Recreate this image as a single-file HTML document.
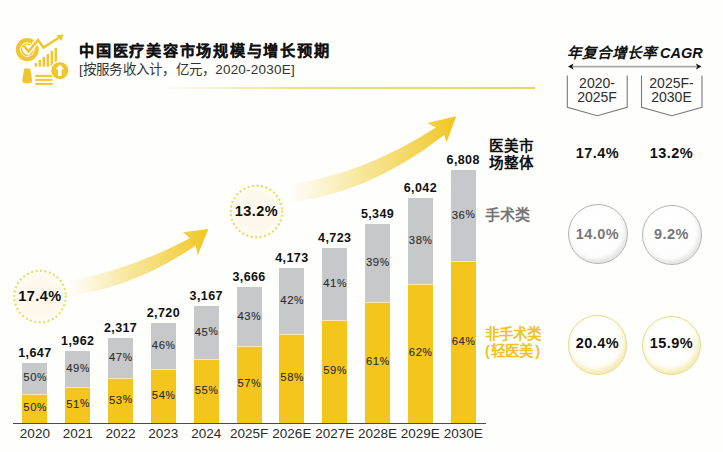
<!DOCTYPE html>
<html lang="zh-CN"><head><meta charset="utf-8">
<style>
*{margin:0;padding:0;box-sizing:border-box}
html,body{width:723px;height:452px;overflow:hidden;background:#fefefc}
body{position:relative;font-family:"Liberation Sans",sans-serif;color:#1a1a1a}
.a{position:absolute}
.g{position:absolute;background:#c7c8ca}
.y{position:absolute;background:#f4c51c;border-top:1px solid #fbe9b0}
.val{position:absolute;width:60px;text-align:center;font-family:"Liberation Sans",sans-serif;font-weight:bold;font-size:12.5px;line-height:16px;color:#111;letter-spacing:0.4px}
.pct{position:absolute;width:40px;text-align:center;font-family:"Liberation Sans",sans-serif;font-size:11.3px;line-height:16px;color:#2b2b2b;letter-spacing:0.6px;-webkit-text-stroke:0.1px #2b2b2b}
.pct span{font-size:10.5px;letter-spacing:0;position:relative;top:-0.3px}
.yr{position:absolute;width:60px;text-align:center;font-size:13.5px;line-height:18px;color:#2a2a2a}
.title{position:absolute;left:79px;top:39.7px;font-size:15.2px;letter-spacing:1.75px;line-height:22px;font-weight:bold;color:#111;white-space:nowrap;-webkit-text-stroke:0.15px #111}
.sub{position:absolute;left:79px;top:61.2px;font-size:13.5px;letter-spacing:0.22px;line-height:18px;color:#333;white-space:nowrap}
.circ{position:absolute;border-radius:50%;}
.mono{font-family:"Liberation Sans",sans-serif;font-weight:bold}
</style></head><body>

<!-- icon -->
<svg class="a" style="left:0;top:20px" width="80" height="80" viewBox="0 0 80 80">
  <g fill="#f0c62e">
    <rect x="34.6" y="43" width="2.4" height="3.6"/>
    <rect x="38.6" y="40" width="2.4" height="6.6"/>
    <rect x="42.6" y="37" width="2.4" height="9.6"/>
    <rect x="46.6" y="34" width="2.4" height="12.6"/>
    <rect x="50.6" y="31" width="2.4" height="15.6"/>
    <rect x="54.6" y="28" width="2.4" height="18.6"/>
  </g>
  <circle cx="27.3" cy="29.6" r="9.4" fill="#fff" stroke="#f0c62e" stroke-width="4.2"/>
  <circle cx="27.3" cy="29.6" r="5.6" fill="none" stroke="#f0c62e" stroke-width="1.6"/>
  <polyline points="24,26 28.5,31.5 38,20 43.5,27.5 61,16.5" fill="none" stroke="#fff" stroke-width="5.5" stroke-linejoin="miter"/>
  <polyline points="24,26 28.5,31.5 38,20 43.5,27.5 60,17" fill="none" stroke="#f0c62e" stroke-width="2.6" stroke-linejoin="miter"/>
  <polygon points="63.5,14.5 56.5,15.2 61.5,21" fill="#f0c62e"/>
  <path d="M24.2 48.5 L30.2 48.5 L32.2 60.8 Q32.2 63.4 27.2 63.4 Q22.2 63.4 22.2 60.8 Z" fill="#f0c62e"/>
  <g fill="#f0c62e">
    <rect x="35.2" y="54.9" width="17.3" height="2"/>
    <rect x="35.2" y="58.9" width="17.3" height="2"/>
    <rect x="35.2" y="62.9" width="17.3" height="2"/>
  </g>
  <circle cx="59.8" cy="50.5" r="9.8" fill="#fff"/>
  <circle cx="59.8" cy="50.5" r="8.6" fill="#f0c62e"/>
  <path d="M59.8 44.5 L64 49.2 L61.6 49.2 L61.6 56 L58 56 L58 49.2 L55.6 49.2 Z" fill="#fff"/>
</svg>

<div class="title">中国医疗美容市场规模与增长预期</div>
<div class="sub">[按服务收入计，亿元，2020-2030E]</div>
<div class="a" style="left:160px;top:86.5px;width:375px;height:2px;background:linear-gradient(90deg,rgba(232,212,100,0) 0%,rgba(232,212,100,0.8) 40%,#e6d56e 100%)"></div>

<!-- arrows -->
<svg class="a" style="left:0;top:0" width="723" height="452">
  <defs>
    <linearGradient id="ag1" x1="68" y1="0" x2="208" y2="0" gradientUnits="userSpaceOnUse">
      <stop offset="0" stop-color="#f6e07a" stop-opacity="0"/>
      <stop offset="0.45" stop-color="#f4da66" stop-opacity="0.68"/>
      <stop offset="1" stop-color="#f1c520" stop-opacity="1"/>
    </linearGradient>
    <linearGradient id="ag2" x1="288" y1="0" x2="456" y2="0" gradientUnits="userSpaceOnUse">
      <stop offset="0" stop-color="#f6e07a" stop-opacity="0"/>
      <stop offset="0.45" stop-color="#f4da66" stop-opacity="0.68"/>
      <stop offset="1" stop-color="#f1c520" stop-opacity="1"/>
    </linearGradient>
  </defs>
  <path d="M62 282 Q127.15 271.6 189.7 238.2 L183.1 232.2 L208.3 228.9 L197.7 255.5 L195.7 245.5 Q131.75 289.5 62 296.5 Z" fill="url(#ag1)"/>
  <path d="M280 186 Q360.4 176.5 435.8 127.6 L427.2 122.9 L456.2 116.3 L446.6 142.6 L444.3 134.9 Q364.65 196.95 280 203 Z" fill="url(#ag2)"/>
</svg>

<svg class="a" style="left:0;top:0" width="723" height="452">
  <defs><radialGradient id="cf"><stop offset="0" stop-color="#fdf8ea"/><stop offset="0.7" stop-color="#fdf8ec"/><stop offset="1" stop-color="#fffcf3"/></radialGradient></defs>
  <circle cx="40" cy="296.5" r="25.8" fill="url(#cf)" stroke="#e8dc6c" stroke-width="2.4" stroke-dasharray="0.01 4.5" stroke-linecap="round"/>
  <circle cx="256.5" cy="211.5" r="25.8" fill="url(#cf)" stroke="#e8dc6c" stroke-width="2.4" stroke-dasharray="0.01 4.5" stroke-linecap="round"/>
</svg>
<div class="a mono" style="left:10px;top:286px;width:60px;text-align:center;font-size:14.5px;line-height:20px;color:#111;letter-spacing:0.45px">17.4%</div>

<div class="a mono" style="left:226.5px;top:201px;width:60px;text-align:center;font-size:14.5px;line-height:20px;color:#111;letter-spacing:0.45px">13.2%</div>

<div class="g" style="left:22.40px;top:362.71px;width:25.0px;height:30.80px"></div>
<div class="y" style="left:22.40px;top:393.50px;width:25.0px;height:30.80px"></div>
<div class="val" style="left:4.90px;top:344.81px">1,647</div>
<div class="pct" style="left:14.90px;top:369.31px">50<span>%</span></div>
<div class="pct" style="left:14.90px;top:399.10px">50<span>%</span></div>
<div class="yr" style="left:4.90px;top:425px">2020</div>
<div class="g" style="left:65.23px;top:350.93px;width:25.0px;height:35.95px"></div>
<div class="y" style="left:65.23px;top:386.88px;width:25.0px;height:37.42px"></div>
<div class="val" style="left:47.73px;top:333.03px">1,962</div>
<div class="pct" style="left:57.73px;top:360.10px">49<span>%</span></div>
<div class="pct" style="left:57.73px;top:395.79px">51<span>%</span></div>
<div class="yr" style="left:47.73px;top:425px">2021</div>
<div class="g" style="left:108.06px;top:337.65px;width:25.0px;height:40.72px"></div>
<div class="y" style="left:108.06px;top:378.38px;width:25.0px;height:45.92px"></div>
<div class="val" style="left:90.56px;top:319.75px">2,317</div>
<div class="pct" style="left:100.56px;top:349.22px">47<span>%</span></div>
<div class="pct" style="left:100.56px;top:391.54px">53<span>%</span></div>
<div class="yr" style="left:90.56px;top:425px">2022</div>
<div class="g" style="left:150.89px;top:322.58px;width:25.0px;height:46.79px"></div>
<div class="y" style="left:150.89px;top:369.37px;width:25.0px;height:54.93px"></div>
<div class="val" style="left:133.39px;top:304.68px">2,720</div>
<div class="pct" style="left:143.39px;top:337.18px">46<span>%</span></div>
<div class="pct" style="left:143.39px;top:387.04px">54<span>%</span></div>
<div class="yr" style="left:133.39px;top:425px">2023</div>
<div class="g" style="left:193.72px;top:305.87px;width:25.0px;height:53.29px"></div>
<div class="y" style="left:193.72px;top:359.16px;width:25.0px;height:65.14px"></div>
<div class="val" style="left:176.22px;top:287.97px">3,167</div>
<div class="pct" style="left:186.22px;top:323.71px">45<span>%</span></div>
<div class="pct" style="left:186.22px;top:381.93px">55<span>%</span></div>
<div class="yr" style="left:176.22px;top:425px">2024</div>
<div class="g" style="left:236.55px;top:287.21px;width:25.0px;height:58.95px"></div>
<div class="y" style="left:236.55px;top:346.16px;width:25.0px;height:78.14px"></div>
<div class="val" style="left:219.05px;top:269.31px">3,666</div>
<div class="pct" style="left:229.05px;top:307.88px">43<span>%</span></div>
<div class="pct" style="left:229.05px;top:375.43px">57<span>%</span></div>
<div class="yr" style="left:219.05px;top:425px">2025F</div>
<div class="g" style="left:279.38px;top:268.25px;width:25.0px;height:65.54px"></div>
<div class="y" style="left:279.38px;top:333.79px;width:25.0px;height:90.51px"></div>
<div class="val" style="left:261.88px;top:250.35px">4,173</div>
<div class="pct" style="left:271.88px;top:292.22px">42<span>%</span></div>
<div class="pct" style="left:271.88px;top:369.24px">58<span>%</span></div>
<div class="yr" style="left:261.88px;top:425px">2026E</div>
<div class="g" style="left:322.21px;top:247.68px;width:25.0px;height:72.41px"></div>
<div class="y" style="left:322.21px;top:320.09px;width:25.0px;height:104.21px"></div>
<div class="val" style="left:304.71px;top:229.78px">4,723</div>
<div class="pct" style="left:314.71px;top:275.09px">41<span>%</span></div>
<div class="pct" style="left:314.71px;top:362.40px">59<span>%</span></div>
<div class="yr" style="left:304.71px;top:425px">2027E</div>
<div class="g" style="left:365.04px;top:224.27px;width:25.0px;height:78.01px"></div>
<div class="y" style="left:365.04px;top:302.28px;width:25.0px;height:122.02px"></div>
<div class="val" style="left:347.54px;top:206.37px">5,349</div>
<div class="pct" style="left:357.54px;top:254.47px">39<span>%</span></div>
<div class="pct" style="left:357.54px;top:353.49px">61<span>%</span></div>
<div class="yr" style="left:347.54px;top:425px">2028E</div>
<div class="g" style="left:407.87px;top:198.35px;width:25.0px;height:85.86px"></div>
<div class="y" style="left:407.87px;top:284.21px;width:25.0px;height:140.09px"></div>
<div class="val" style="left:390.37px;top:180.45px">6,042</div>
<div class="pct" style="left:400.37px;top:232.48px">38<span>%</span></div>
<div class="pct" style="left:400.37px;top:344.46px">62<span>%</span></div>
<div class="yr" style="left:390.37px;top:425px">2029E</div>
<div class="g" style="left:450.70px;top:169.71px;width:25.0px;height:91.65px"></div>
<div class="y" style="left:450.70px;top:261.36px;width:25.0px;height:162.94px"></div>
<div class="val" style="left:433.20px;top:151.81px">6,808</div>
<div class="pct" style="left:443.20px;top:206.73px">36<span>%</span></div>
<div class="pct" style="left:443.20px;top:333.03px">64<span>%</span></div>
<div class="yr" style="left:433.20px;top:425px">2030E</div>
<div class="a" style="left:12.5px;top:422.9px;width:473px;height:1.5px;background:#4a4a4a"></div>

<div class="a" style="left:488.5px;top:138px;font-size:14.6px;line-height:16.6px;font-weight:bold;color:#111;white-space:nowrap">医美市<br>场整体</div>
<div class="a" style="left:485px;top:206px;font-size:15px;line-height:18px;font-weight:bold;color:#767676;white-space:nowrap">手术类</div>
<div class="a" style="left:485px;top:325.5px;font-size:14.5px;line-height:17.5px;font-weight:bold;color:#f0c222;white-space:nowrap">非手术类<br><span style="margin-right:1.5px">(</span>轻医美<span style="margin-left:2px">)</span></div>

<!-- right panel -->
<div class="a" style="left:567px;top:44px;font-size:14.6px;line-height:18px;font-weight:bold;font-style:italic;color:#111;white-space:nowrap">年复合增长率<span style="font-size:14.5px;margin-left:3px">CAGR</span></div>
<svg class="a" style="left:0;top:0" width="723" height="452">
  <line x1="572" y1="66.6" x2="697" y2="66.6" stroke="#a8a8a8" stroke-width="1.6"/>
  <path d="M568 66.6 L573.6 63.6 L572.2 66.6 L573.6 69.6 Z" fill="#111"/>
  <path d="M701.5 66.6 L695.9 63.6 L697.3 66.6 L695.9 69.6 Z" fill="#111"/>
  <g fill="none" stroke="#7a7a7a" stroke-width="1.1">
    <polyline points="567.3,75.5 567.3,107.3 597.3,115.8 627.2,107.3 627.2,75.5"/>
    <polyline points="641.5,75.5 641.5,107.3 671.8,115.8 702,107.3 702,75.5"/>
  </g>
</svg>
<div class="a" style="left:567px;top:75.5px;width:60px;text-align:center;font-size:14px;line-height:14.2px;color:#2e2e2e">2020-<br>2025F</div>
<div class="a" style="left:641.5px;top:75.5px;width:60px;text-align:center;font-size:14px;line-height:14.2px;color:#2e2e2e">2025F-<br>2030E</div>

<div class="a mono" style="left:567.5px;top:143px;width:60px;text-align:center;font-size:14.5px;line-height:20px;color:#111;letter-spacing:0.45px">17.4%</div>
<div class="a mono" style="left:641.5px;top:143px;width:60px;text-align:center;font-size:14.5px;line-height:20px;color:#111;letter-spacing:0.45px">13.2%</div>

<div class="circ" style="left:567.5px;top:204.3px;width:60px;height:60px;border:1px solid #b3b3b3;background:radial-gradient(circle at 42% 38%,#ffffff 0%,#fdfdfd 60%,#f0f0f0 100%);box-shadow:inset -2px -3px 4px rgba(0,0,0,0.09)"></div>
<div class="circ" style="left:641.5px;top:205px;width:60px;height:60px;border:1px solid #b3b3b3;background:radial-gradient(circle at 42% 38%,#ffffff 0%,#fdfdfd 60%,#f0f0f0 100%);box-shadow:inset -2px -3px 4px rgba(0,0,0,0.09)"></div>
<div class="a mono" style="left:567.5px;top:224px;width:60px;text-align:center;font-size:14.5px;line-height:20px;color:#777;letter-spacing:0.45px">14.0%</div>
<div class="a mono" style="left:641.5px;top:224px;width:60px;text-align:center;font-size:14.5px;line-height:20px;color:#777;letter-spacing:0.45px">9.2%</div>

<div class="circ" style="left:567.5px;top:315px;width:59.5px;height:59.5px;border:1.6px solid #e5da84;background:radial-gradient(circle at 42% 38%,#ffffff 0%,#fffefa 60%,#f7f1d2 100%);box-shadow:inset -2px -4px 5px rgba(232,212,90,0.4)"></div>
<div class="circ" style="left:641.8px;top:315.5px;width:59.5px;height:59.5px;border:1.6px solid #e5da84;background:radial-gradient(circle at 42% 38%,#ffffff 0%,#fffefa 60%,#f7f1d2 100%);box-shadow:inset -2px -4px 5px rgba(232,212,90,0.4)"></div>
<div class="a mono" style="left:567.5px;top:333.3px;width:60px;text-align:center;font-size:14.5px;line-height:20px;color:#111;letter-spacing:0.45px">20.4%</div>
<div class="a mono" style="left:641.5px;top:333.3px;width:60px;text-align:center;font-size:14.5px;line-height:20px;color:#111;letter-spacing:0.45px">15.9%</div>

</body></html>
